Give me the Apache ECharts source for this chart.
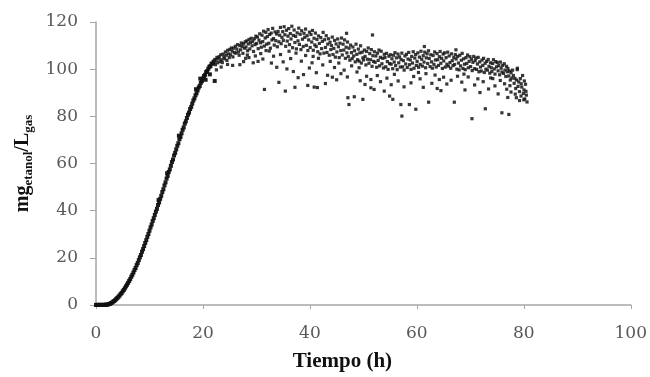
<!DOCTYPE html>
<html>
<head>
<meta charset="utf-8">
<script src="https://cdn.jsdelivr.net/npm/echarts@6/dist/echarts.min.js"></script>
<style>html,body{margin:0;padding:0;background:#fff}#c{width:650px;height:377px}</style>
</head>
<body>
<div id="c"></div>
<script>
// x tick labels and y tick labels
var xTicks = [0, 20, 40, 60, 80, 100];
var yTicks = [0, 20, 40, 60, 80, 100, 120];

// rise phase [time (h), mg/L]
var rise = [
[0.0,0.0],[0.2,0.1],[0.4,0.0],[0.6,0.1],[0.8,0.0],[1.0,0.1],[1.2,0.0],[1.4,0.1],[1.6,0.0],[1.8,0.2],
[2.0,0.1],[2.2,0.2],[2.4,0.4],[2.6,0.5],[2.8,0.8],[3.0,1.0],[3.2,1.4],[3.4,1.7],[3.6,2.1],[3.8,2.6],
[4.0,3.0],[4.2,3.5],[4.4,4.0],[4.6,4.6],[4.8,5.1],[5.0,5.8],[5.2,6.4],[5.4,7.1],[5.6,7.9],[5.8,8.6],
[6.0,9.4],[6.2,10.2],[6.4,11.0],[6.6,12.0],[6.8,12.8],[7.0,13.8],[7.2,14.8],[7.4,15.7],[7.6,16.9],[7.8,17.8],
[8.0,19.0],[8.2,20.2],[8.4,21.2],[8.6,22.6],[8.8,23.7],[9.0,25.0],[9.2,26.3],[9.4,27.5],[9.6,28.9],[9.8,30.1],
[10.0,31.5],[10.2,32.9],[10.4,34.1],[10.6,35.6],[10.8,36.8],[11.0,38.2],[11.2,39.6],[11.4,40.8],[11.6,42.4],[11.8,43.5],
[12.0,45.0],[12.2,46.3],[12.4,47.9],[12.6,49.1],[12.8,50.7],[13.0,52.0],[13.2,53.6],[13.4,54.7],[13.6,56.4],[13.8,57.5],
[14.0,59.0],[14.2,60.6],[14.4,61.7],[14.6,63.4],[14.8,64.5],[15.0,66.0],[15.2,67.5],[15.4,68.6],[15.6,70.3],[15.8,71.3],
[16.0,72.8],[16.2,74.3],[16.4,75.3],[16.6,76.9],[16.8,77.9],[17.0,79.3],[17.2,80.7],[17.4,81.6],[17.6,83.1],[17.8,84.0],
[18.0,85.4],[18.2,86.7],[18.4,87.6],[18.6,88.9],[18.8,89.8],[19.0,91.0],[19.2,92.2],[19.4,92.9],[19.6,94.2],[19.8,94.9],
[20.0,96.0],[20.2,97.1],[20.4,97.6],[20.6,98.8],[20.8,99.2],[21.0,100.2],[21.2,101.0],[21.4,101.3],[21.6,102.3],[21.8,102.4],
[22.0,103.2],[20.5,95.5],[21.3,97.8],[22.2,95.0],[19.5,96.0],[18.7,91.5],[15.5,71.8],[13.3,55.9],[11.7,44.5]
];

// production / plateau phase [time (h), mg/L]
var plateau = [
[22.05,102.6],[22.2,104.1],[22.34,101.9],[22.47,103.8],[22.61,105.0],[22.76,102.7],[22.9,104.6],[22.52,99.7],
[23.04,105.3],[23.19,103.2],[23.33,106.1],[23.48,104.0],[23.62,102.8],[23.77,106.4],[23.91,105.2],[23.4,100.9],
[24.06,104.4],[24.2,107.3],[24.35,105.9],[24.49,103.7],[24.63,108.0],[24.78,106.5],[24.92,104.9],[24.6,102.0],
[25.03,108.4],[25.18,106.1],[25.32,109.0],[25.46,107.6],[25.61,105.2],[25.75,108.9],[25.9,107.0],[25.55,101.6],
[26.05,109.7],[26.19,106.8],[26.34,108.5],[26.48,110.4],[26.63,107.3],[26.77,105.9],[26.91,110.0],[26.9,101.9],
[27.04,108.2],[27.18,111.1],[27.33,109.6],[27.47,106.7],[27.61,110.8],[27.76,108.9],[27.9,111.6],[27.6,103.2],[27.98,104.6],
[28.05,109.4],[28.2,112.0],[28.34,107.8],[28.48,110.7],[28.62,112.6],[28.77,108.6],[28.91,111.3],[28.6,104.9],[28.3,106.0],
[29.03,113.1],[29.18,109.9],[29.32,111.8],[29.46,107.5],[29.61,112.9],[29.75,110.4],[29.9,114.0],[29.4,102.7],[29.8,105.6],
[30.04,110.9],[30.19,113.6],[30.33,108.7],[30.48,112.3],[30.62,115.0],[30.76,111.2],[30.91,109.3],[30.3,103.3],[30.8,106.6],
[31.05,114.4],[31.19,111.7],[31.34,116.1],[31.48,109.8],[31.63,113.2],[31.77,115.6],[31.91,110.6],[31.5,91.4],[31.2,104.3],[31.8,107.9],
[32.03,113.8],[32.18,116.8],[32.32,111.0],[32.47,114.7],[32.61,108.9],[32.76,115.3],[32.9,112.4],[32.4,107.7],[32.8,102.6],
[33.04,117.3],[33.19,113.0],[33.33,110.2],[33.48,115.8],[33.62,112.1],[33.77,114.9],[33.91,109.5],[33.2,105.5],[33.8,100.8],
[34.05,116.0],[34.2,111.6],[34.34,114.4],[34.48,117.7],[34.63,110.8],[34.77,113.5],[34.91,115.9],[34.2,94.4],[34.5,106.2],
[35.03,112.2],[35.18,118.0],[35.32,114.6],[35.47,109.7],[35.61,116.5],[35.76,111.9],[35.9,114.0],[35.0,103.1],[35.4,90.7],[35.7,100.1],
[36.04,117.2],[36.19,110.4],[36.33,115.1],[36.47,112.8],[36.62,118.2],[36.76,109.1],[36.9,114.3],[36.4,104.5],[36.9,99.0],[36.1,107.6],
[37.05,116.6],[37.19,111.3],[37.34,113.9],[37.48,108.6],[37.62,115.4],[37.77,112.0],[37.91,117.4],[37.2,92.3],[37.4,106.8],[37.8,96.4],
[38.03,110.5],[38.18,114.8],[38.32,108.3],[38.46,116.3],[38.61,112.7],[38.75,109.6],[38.9,115.2],[38.4,103.4],[38.8,97.7],
[39.04,113.5],[39.19,117.0],[39.33,110.1],[39.48,114.2],[39.62,107.9],[39.77,112.4],[39.91,115.7],[39.2,105.8],[39.6,93.1],[39.9,100.5],
[40.05,109.2],[40.2,114.7],[40.34,111.5],[40.48,116.4],[40.63,108.0],[40.77,113.1],[40.91,110.3],[40.4,102.7],[40.8,92.4],[40.6,105.4],
[41.03,115.3],[41.18,109.6],[41.32,112.6],[41.47,107.4],[41.61,114.1],[41.76,110.9],[41.9,106.5],[41.2,98.5],[41.4,92.2],[41.6,104.6],
[42.04,113.4],[42.19,108.7],[42.33,111.8],[42.47,115.6],[42.62,106.8],[42.76,112.5],[42.91,109.2],[42.4,101.8],[42.9,93.9],
[43.05,114.2],[43.19,107.1],[43.34,110.6],[43.48,112.9],[43.62,105.9],[43.77,111.4],[43.91,108.3],[43.3,97.4],[43.8,103.3],
[44.03,110.0],[44.18,113.6],[44.32,106.2],[44.47,108.8],[44.61,112.2],[44.76,105.1],[44.9,110.7],[44.6,100.7],[44.2,96.6],
[45.04,107.3],[45.19,112.8],[45.33,109.5],[45.48,104.9],[45.62,111.0],[45.77,107.9],[45.91,113.2],[45.0,95.5],[45.4,102.6],[45.8,98.1],
[46.05,106.0],[46.2,110.6],[46.34,108.1],[46.48,112.4],[46.63,104.6],[46.77,109.3],[46.85,115.2],[46.91,106.9],[46.4,99.6],
[47.03,111.5],[47.18,105.3],[47.32,108.9],[47.47,103.8],[47.61,110.2],[47.76,107.0],[47.9,104.5],[47.3,85.0],[47.1,87.9],[47.0,96.7],[47.8,101.4],
[48.04,109.4],[48.19,105.6],[48.33,107.8],[48.48,103.1],[48.62,110.6],[48.77,106.3],[48.91,104.0],[48.3,88.3],[48.8,98.8],
[49.05,108.5],[49.19,103.4],[49.34,106.9],[49.48,109.9],[49.62,102.6],[49.77,107.2],[49.91,104.8],[49.9,87.2],[49.4,95.1],[49.2,100.6],
[50.03,103.9],[50.18,108.1],[50.32,105.4],[50.47,101.8],[50.61,107.5],[50.76,104.2],[50.9,109.0],[50.6,97.0],[50.3,93.5],
[51.04,102.5],[51.19,106.6],[51.33,104.0],[51.48,108.3],[51.62,101.2],[51.7,114.5],[51.77,105.7],[51.91,103.3],[51.4,92.1],[51.4,95.6],
[52.05,107.4],[52.2,102.9],[52.34,105.6],[52.48,100.8],[52.63,106.8],[52.77,103.7],[52.91,108.1],[52.0,91.4],[52.6,97.3],
[53.03,101.4],[53.18,105.0],[53.32,107.6],[53.47,102.3],[53.61,104.6],[53.76,100.5],[53.9,106.3],[53.9,90.7],[53.2,94.7],
[54.04,104.9],[54.19,101.0],[54.33,106.7],[54.48,103.2],[54.62,99.9],[54.77,105.5],[54.91,102.4],[54.9,88.6],[54.4,96.2],
[55.05,106.1],[55.19,102.1],[55.34,104.4],[55.48,100.2],[55.63,105.9],[55.77,103.0],[55.91,107.0],[55.5,87.2],[55.2,93.4],[55.8,97.8],
[56.03,101.5],[56.18,104.8],[56.32,99.8],[56.47,106.4],[56.61,102.7],[56.76,105.2],[56.9,100.9],[56.5,95.0],
[57.04,104.1],[57.19,106.8],[57.33,101.0],[57.48,103.6],[57.62,99.6],[57.77,105.6],[57.91,102.2],[57.0,85.0],[57.2,80.1],[57.6,92.5],
[58.05,106.3],[58.2,100.7],[58.34,104.3],[58.48,107.1],[58.63,101.9],[58.77,103.9],[58.91,99.9],[58.6,85.0],[58.9,94.2],
[59.03,105.4],[59.18,102.6],[59.32,107.4],[59.47,100.4],[59.61,104.7],[59.76,106.2],[59.9,101.6],[59.8,83.0],[59.4,96.9],
[60.04,103.3],[60.19,106.9],[60.33,100.8],[60.48,105.1],[60.62,102.0],[60.77,107.6],[60.91,104.2],[60.6,95.9],[60.3,98.6],
[61.05,101.3],[61.19,105.7],[61.34,103.0],[61.4,109.6],[61.48,107.2],[61.63,100.6],[61.77,104.8],[61.91,106.5],[61.2,92.3],[61.7,98.1],
[62.03,102.4],[62.18,107.8],[62.32,104.5],[62.47,101.1],[62.61,106.1],[62.76,103.1],[62.9,100.4],[62.2,86.0],[62.8,94.0],
[63.04,105.8],[63.19,102.0],[63.33,107.3],[63.48,103.9],[63.62,100.9],[63.77,106.6],[63.91,104.0],[63.4,97.5],[63.8,91.8],
[64.05,101.6],[64.2,105.3],[64.34,107.5],[64.48,102.5],[64.63,104.6],[64.77,100.3],[64.91,106.4],[64.5,90.9],[64.2,95.6],
[65.03,103.5],[65.18,106.9],[65.32,100.9],[65.47,104.9],[65.61,102.1],[65.76,107.2],[65.9,101.3],[65.0,96.6],[65.6,93.7],
[66.04,105.6],[66.19,102.8],[66.33,100.4],[66.48,106.5],[66.62,103.6],[66.77,101.5],[66.91,105.0],[66.4,95.3],
[67.05,102.0],[67.19,106.2],[67.3,108.2],[67.34,104.3],[67.48,100.0],[67.63,105.4],[67.77,102.6],[67.91,99.7],[67.0,86.0],[67.6,97.0],
[68.03,105.9],[68.18,101.4],[68.32,103.8],[68.47,106.7],[68.61,100.3],[68.76,104.4],[68.9,102.1],[68.4,94.5],[68.8,97.9],
[69.04,99.8],[69.19,104.9],[69.33,102.4],[69.48,106.0],[69.62,100.6],[69.77,103.3],[69.91,105.3],[69.0,91.2],[69.6,96.7],
[70.05,101.1],[70.2,104.2],[70.34,99.4],[70.48,102.9],[70.63,105.4],[70.77,100.2],[70.91,103.6],[70.3,79.0],[70.8,93.3],
[71.03,104.7],[71.18,99.9],[71.32,102.2],[71.47,105.0],[71.61,98.9],[71.76,103.1],[71.9,100.9],[71.4,95.9],[71.8,90.1],
[72.04,99.2],[72.19,103.9],[72.33,101.6],[72.48,104.6],[72.62,98.6],[72.77,102.5],[72.91,100.0],[72.8,83.2],[72.4,94.7],
[73.05,103.3],[73.19,99.6],[73.34,104.1],[73.48,101.2],[73.63,98.3],[73.77,102.7],[73.91,100.6],[73.4,91.6],[73.8,96.3],
[74.03,99.0],[74.18,102.4],[74.32,104.0],[74.47,100.1],[74.61,97.9],[74.76,103.2],[74.9,101.0],[74.6,92.9],[74.2,96.0],
[75.04,102.8],[75.19,99.3],[75.33,101.5],[75.48,97.6],[75.62,103.0],[75.77,100.4],[75.91,98.8],[75.9,81.5],[75.2,89.5],[75.6,95.2],
[76.05,101.6],[76.2,98.2],[76.34,102.3],[76.48,99.6],[76.63,96.9],[76.77,101.2],[76.91,98.9],[76.4,93.8],[76.8,91.5],
[77.03,100.3],[77.18,97.1],[77.32,99.2],[77.47,95.4],[77.61,98.5],[77.76,96.2],[77.9,99.6],[77.2,80.8],[77.6,90.3],[77.0,88.0],[77.4,93.0],
[78.04,97.3],[78.19,94.0],[78.33,96.1],[78.48,91.8],[78.62,95.4],[78.77,99.8],[78.91,92.7],[78.4,89.4],[78.8,100.4],[78.6,87.9],
[79.05,94.6],[79.19,90.5],[79.34,96.0],[79.48,88.6],[79.62,92.4],[79.77,97.3],[79.91,89.7],[79.2,86.7],[79.5,93.8],
[80.03,91.2],[80.18,87.4],[80.32,93.6],[80.47,89.0],[80.6,86.1],[80.1,95.0],[80.4,90.6],[80.0,87.0]
];

var chart = echarts.init(document.getElementById('c'), null, {renderer: 'canvas'});
var serif = '"Liberation Serif", "DejaVu Serif", serif';
var labelFont = '"DejaVu Serif", serif';
var axisGray = '#a6a6a6';

chart.setOption({
  animation: false,
  backgroundColor: '#ffffff',
  grid: {left: 96, right: 18, top: 22, bottom: 70, containLabel: false},
  xAxis: {
    type: 'value',
    min: xTicks[0], max: xTicks[xTicks.length - 1], interval: 20,
    name: 'Tiempo (h)',
    nameLocation: 'middle',
    nameGap: 46,
    nameTextStyle: {fontFamily: serif, fontWeight: 'bold', fontSize: 21, color: '#111', padding: [0, 42, 0, 0]},
    axisLine: {show: true, lineStyle: {color: axisGray, width: 1.5}},
    axisTick: {show: true, length: 4, lineStyle: {color: axisGray}},
    splitLine: {show: false},
    axisLabel: {fontFamily: labelFont, fontSize: 17, color: '#595959', margin: 20}
  },
  yAxis: {
    type: 'value',
    min: yTicks[0], max: yTicks[yTicks.length - 1], interval: 20,
    name: '{m|mg}{s|etanol}{m|/L}{s|gas}',
    nameLocation: 'middle',
    nameGap: 58,
    nameTextStyle: {
      rich: {
        m: {fontFamily: serif, fontWeight: 'bold', fontSize: 20, color: '#111', lineHeight: 24, verticalAlign: 'middle'},
        s: {fontFamily: serif, fontWeight: 'bold', fontSize: 13, color: '#111', lineHeight: 13, verticalAlign: 'bottom'}
      }
    },
    axisLine: {show: true, lineStyle: {color: axisGray, width: 1.5}},
    axisTick: {show: true, length: 6, lineStyle: {color: axisGray}},
    splitLine: {show: false},
    axisLabel: {fontFamily: labelFont, fontSize: 17, color: '#595959', margin: 18}
  },
  series: [
    {type: 'scatter', data: rise, symbol: 'rect', symbolSize: 4, itemStyle: {color: '#111111', opacity: 0.95}},
    {type: 'scatter', data: plateau, symbol: 'rect', symbolSize: 3.2, itemStyle: {color: '#141414', opacity: 0.85}}
  ]
});
</script>
</body>
</html>
